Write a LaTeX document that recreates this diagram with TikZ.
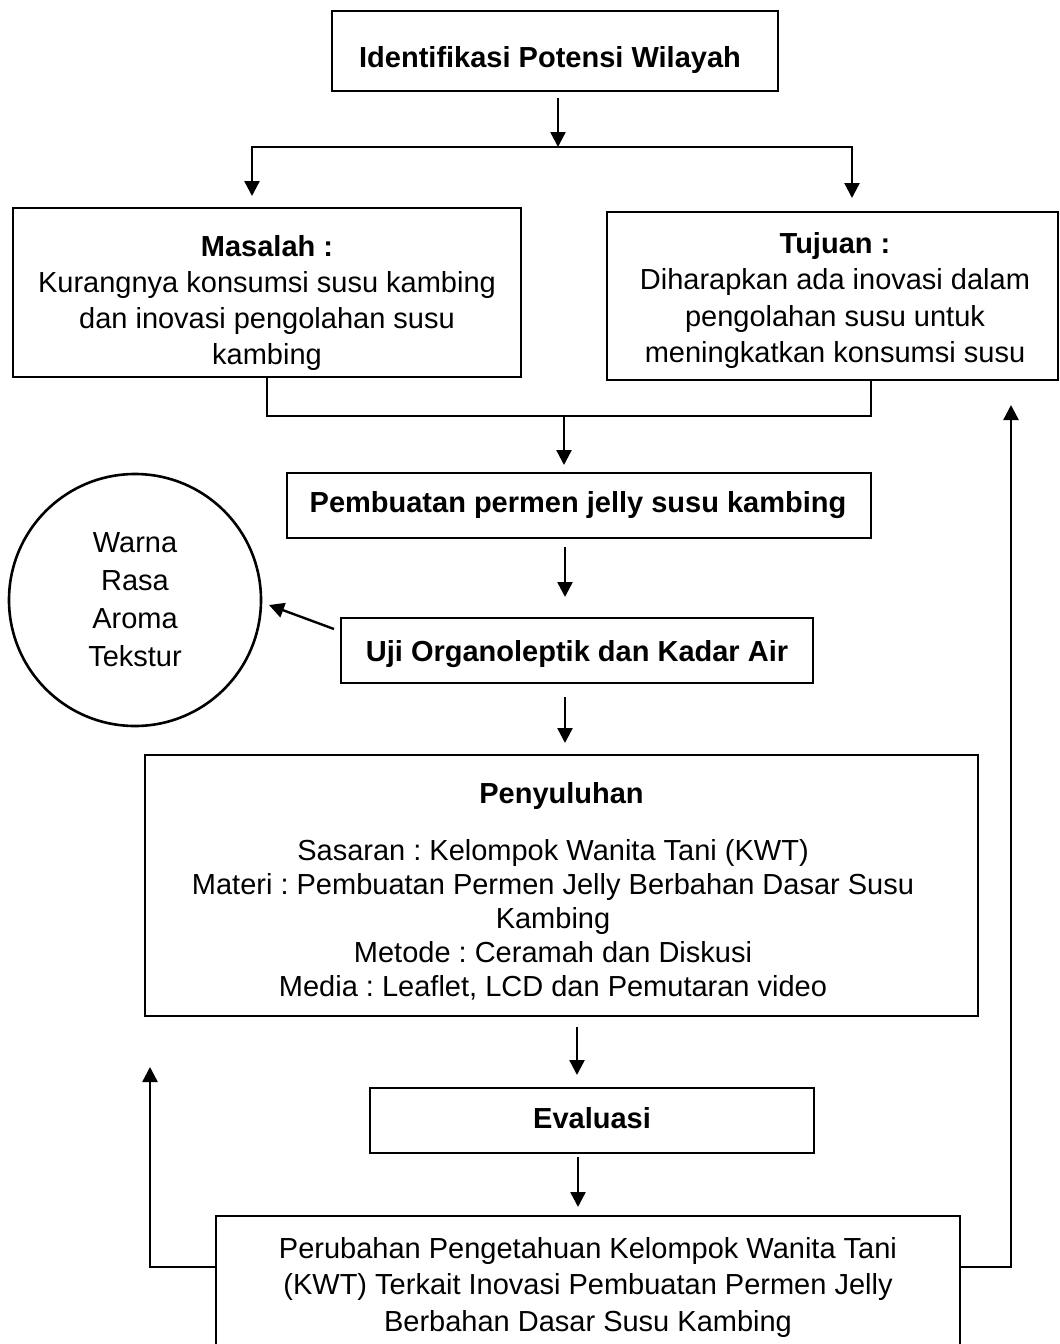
\documentclass[tikz,border=0pt]{standalone}
\usepackage{fontspec}
\setmainfont{Liberation Sans}
\usetikzlibrary{arrows.meta,calc}
\frenchspacing
\begin{document}
\begin{tikzpicture}[x=1pt,y=-1pt,
  box/.style={draw, line width=2.6pt, inner sep=0pt, outer sep=0pt},
  txt/.style={inner sep=0pt, outer sep=0pt, align=center, font=\fontsize{29}{36}\selectfont},
  arr/.style={line width=2.4pt, -{Triangle[length=15pt,width=15pt]}},
  ln/.style={line width=2.4pt},
]
\clip (0,0) rectangle (1060,1344);

% boxes
\node[box, minimum width=446, minimum height=80] (top) at (555,51) {};
\node[box, minimum width=508, minimum height=169] (masalah) at (267,292.5) {};
\node[box, minimum width=451, minimum height=168] (tujuan) at (832.5,296) {};
\node[box, minimum width=584, minimum height=65] (pemb) at (579,505.5) {};
\node[box, minimum width=472, minimum height=65] (uji) at (577,650.5) {};
\node[box, circle, minimum size=252, align=center, font=\fontsize{29}{38}\selectfont] (circ) at (135,600) {Warna\\Rasa\\Aroma\\Tekstur};
\node[box, minimum width=833, minimum height=261] (peny) at (561.5,885.5) {};
\node[box, minimum width=444, minimum height=65] (eval) at (592,1120.5) {};
\node[box, minimum width=744, minimum height=184] (final) at (588,1308) {};

% texts
\node[txt, anchor=north] (top-t) at (550,46) {\bfseries Identifikasi Potensi Wilayah};
\node[txt, anchor=north] (masalah-t) at (267,235) {\textbf{Masalah :}\\Kurangnya konsumsi susu kambing\\dan inovasi pengolahan susu\\kambing};
\node[txt, anchor=north, font=\fontsize{29}{36.5}\selectfont] (tujuan-t) at (835,232) {\textbf{Tujuan :}\\Diharapkan ada inovasi dalam\\pengolahan susu untuk\\meningkatkan konsumsi susu};
\node[txt, anchor=north] (pemb-t) at (578,491) {\bfseries Pembuatan permen jelly susu kambing};
\node[txt, anchor=north] (uji-t) at (577,640) {\bfseries Uji Organoleptik dan Kadar Air};
\node[txt, anchor=north] (peny-h) at (561.5,782) {\bfseries Penyuluhan};
\node[txt, anchor=north, font=\fontsize{29}{34}\selectfont] (peny-t) at (553,839) {Sasaran : Kelompok Wanita Tani (KWT)\\Materi : Pembuatan Permen Jelly Berbahan Dasar Susu\\Kambing\\Metode : Ceramah dan Diskusi\\Media : Leaflet, LCD dan Pemutaran video};
\node[txt, anchor=north] (eval-t) at (592,1107) {\bfseries Evaluasi};
\node[txt, anchor=north, font=\fontsize{29}{36.5}\selectfont] (final-t) at (588,1237) {Perubahan Pengetahuan Kelompok Wanita Tani\\(KWT) Terkait Inovasi Pembuatan Permen Jelly\\Berbahan Dasar Susu Kambing};

% connectors
\coordinate (split) at (558,147);
\coordinate (mtip) at (252,196);
\coordinate (ttip) at (852,198);
\draw[arr] ($(top.south -| split)+(0,7)$) -- (split);
\draw[arr] (split) -| (mtip);
\draw[arr] (split) -| (ttip);

\coordinate (merge) at (564,416);
\draw[ln] (masalah.south) |- (merge) -| ($(tujuan.south)+(38.5,0)$);
\draw[arr] (merge) -- ($(pemb.north -| merge)+(0,-8)$);

\draw[arr] ($(pemb.south)+(-14,9)$) -- ($(uji.north)+(-12,-21)$);
\draw[arr] ($(uji.west)+(-7,-21.5)$) -- ($(circ.east)+(8,5)$);
\draw[arr] ($(uji.south)+(-12,14)$) -- ($(peny.north)+(3.5,-12)$);
\draw[arr] ($(peny.south)+(15.5,11)$) -- ($(eval.north)+(-15,-13)$);
\draw[arr] ($(eval.south)+(-14,4)$) -- ($(final.north)+(-10,-9)$);

\coordinate (ltip) at (150,1067);
\coordinate (rtip) at (1011,405);
\draw[arr] ($(final.north west)+(0,51)$) -| (ltip);
\draw[arr] ($(final.north east)+(0,51)$) -| (rtip);
\end{tikzpicture}
\end{document}
